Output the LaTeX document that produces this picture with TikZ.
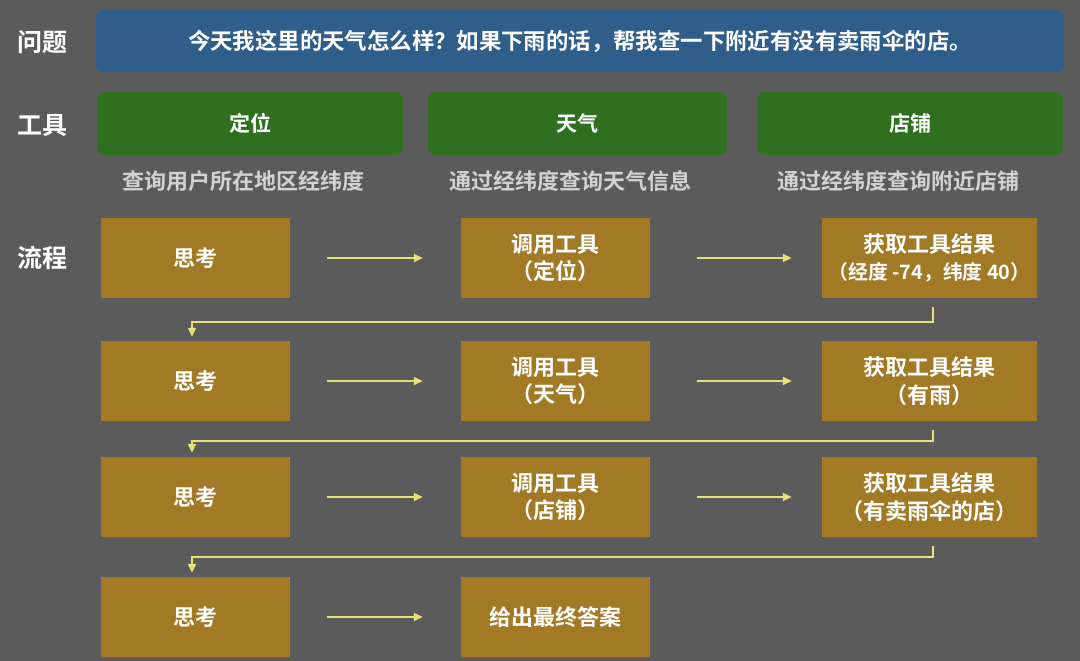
\documentclass[tikz,border=0pt]{standalone}
\usepackage{fontspec}
\setmainfont{Noto Sans CJK SC}[BoldFont={Noto Sans CJK SC Bold}]
\usetikzlibrary{arrows.meta}
\definecolor{bgc}{HTML}{5B5B5B}
\definecolor{qblue}{HTML}{305E8B}
\definecolor{tgreen}{HTML}{2E6F20}
\definecolor{fgold}{HTML}{A27A25}
\definecolor{ayellow}{HTML}{E8E07A}
\definecolor{subgray}{HTML}{D2D2D2}
\tikzset{
  rowlabel/.style={text=white,font=\bfseries\fontsize{25}{28}\selectfont,inner sep=0},
  qbox/.style={fill=qblue,rounded corners=7pt,minimum width=968pt,minimum height=62pt,text=white,font=\bfseries\fontsize{22.4}{26}\selectfont,inner sep=0},
  toolbox/.style={fill=tgreen,rounded corners=8pt,minimum height=63pt,text=white,font=\bfseries\fontsize{21}{24}\selectfont,inner sep=0},
  subtext/.style={text=subgray,font=\bfseries\fontsize{22}{24}\selectfont,inner sep=0},
  flowbox/.style={fill=fgold,minimum height=80pt,text=white,font=\bfseries\fontsize{22}{27.5}\selectfont,align=center,inner sep=0},
  conn/.style={draw=ayellow,line width=1.6pt,-{Triangle[length=9pt,width=8pt]}},
}
\begin{document}
\begin{tikzpicture}[x=1pt,y=-1pt]
\fill[bgc] (0,0) rectangle (1080,661);
\useasboundingbox (0,0) rectangle (1080,661);
% row labels
\node[rowlabel] (lq) at (42,42) {问题};
\node[rowlabel] (lt) at (42,126) {工具};
\node[rowlabel] (lf) at (42,258) {流程};
% question
\node[qbox] (q) at (580,41) {今天我这里的天气怎么样？如果下雨的话，帮我查一下附近有没有卖雨伞的店。};
% tools
\node[toolbox,minimum width=306pt] (t1) at (250,123.5) {定位};
\node[toolbox,minimum width=299pt] (t2) at (577.5,123.5) {天气};
\node[toolbox,minimum width=306pt] (t3) at (910,123.5) {店铺};
\node[subtext] (s1) at (243,181) {查询用户所在地区经纬度};
\node[subtext] (s2) at (570,181) {通过经纬度查询天气信息};
\node[subtext] (s3) at (898,181) {通过经纬度查询附近店铺};
% flow rows
\node[flowbox,minimum width=189pt] (r1c1) at (195.5,258) {思考};
\node[flowbox,minimum width=189pt] (r1c2) at (555.5,258) {调用工具\\（定位）};
\node[flowbox,minimum width=215pt] (r1c3) at (929.5,258) {获取工具结果\\{\fontsize{19.8}{27.5}\selectfont （经度 -74，纬度 40）}};
\node[flowbox,minimum width=189pt] (r2c1) at (195.5,381) {思考};
\node[flowbox,minimum width=189pt] (r2c2) at (555.5,381) {调用工具\\（天气）};
\node[flowbox,minimum width=215pt] (r2c3) at (929.5,381) {获取工具结果\\（有雨）};
\node[flowbox,minimum width=189pt] (r3c1) at (195.5,497) {思考};
\node[flowbox,minimum width=189pt] (r3c2) at (555.5,497) {调用工具\\（店铺）};
\node[flowbox,minimum width=215pt] (r3c3) at (929.5,497) {获取工具结果\\（有卖雨伞的店）};
\node[flowbox,minimum width=189pt] (r4c1) at (195.5,617) {思考};
\node[flowbox,minimum width=189pt] (r4c2) at (555.5,617) {给出最终答案};
% horizontal arrows
\foreach \r in {1,2,3}{
  \draw[conn,shorten <=37pt,shorten >=38pt] (r\r c1.east) -- (r\r c2.west);
  \draw[conn,shorten <=47pt,shorten >=30pt] (r\r c2.east) -- (r\r c3.west);
}
\draw[conn,shorten <=37pt,shorten >=38pt] (r4c1.east) -- (r4c2.west);
% return connectors
\draw[conn,shorten <=9pt,shorten >=4pt] ([xshift=3.5pt]r1c3.south) -- ++(0,24) -| ([xshift=-3.5pt]r2c1.north);
\draw[conn,shorten <=9pt,shorten >=4pt] ([xshift=3.5pt]r2c3.south) -- ++(0,20) -| ([xshift=-3.5pt]r3c1.north);
\draw[conn,shorten <=9pt,shorten >=4pt] ([xshift=3.5pt]r3c3.south) -- ++(0,20) -| ([xshift=-3.5pt]r4c1.north);
\end{tikzpicture}
\end{document}
